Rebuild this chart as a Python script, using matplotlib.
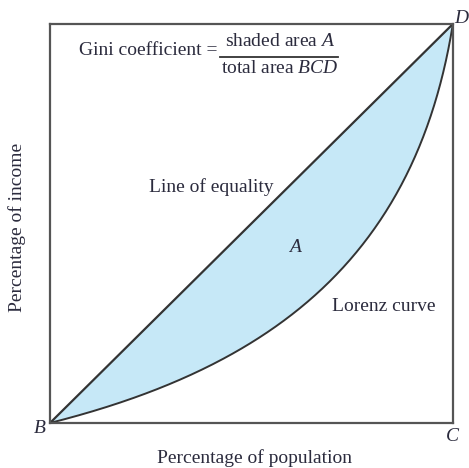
import matplotlib
matplotlib.use('Agg')
import matplotlib.pyplot as plt
import numpy as np

# Lorenz curve points (share of population, share of income)
pop_share = [0.0, 0.124, 0.248, 0.372, 0.471, 0.553, 0.638, 0.720, 0.801, 0.866, 0.911, 0.950, 0.980, 1.0]
income_share = [0.0, 0.038, 0.078, 0.128, 0.182, 0.238, 0.306, 0.383, 0.484, 0.575, 0.677, 0.792, 0.902, 1.0]
equality = [0.0, 1.0]

corner_labels = ['B', 'C', 'D']
x_label = 'Percentage of population'
y_label = 'Percentage of income'

plt.rcParams['font.family'] = ['Liberation Serif', 'DejaVu Serif']
plt.rcParams['mathtext.fontset'] = 'custom'
plt.rcParams['mathtext.rm'] = 'Liberation Serif'
plt.rcParams['mathtext.it'] = 'Liberation Serif:italic'
text_col = '#2b2b3d'
line_col = '#333333'
fs = 14

# smooth the read points: distance from the diagonal as a bump along it
px = np.array(pop_share)
py = np.array(income_share)
u = (px + py) / 2
v = (px - py) / 2
base = u * (1 - u)
A = np.vstack([base, base * u, base * u**2, base * u**3]).T
coef, *_ = np.linalg.lstsq(A, v, rcond=None)
uu = np.linspace(0, 1, 400)
vv = uu * (1 - uu) * (coef[0] + coef[1] * uu + coef[2] * uu**2 + coef[3] * uu**3)
curve_x = uu + vv
curve_y = uu - vv

fig = plt.figure(figsize=(4.69, 4.68), dpi=100)
ax = fig.add_axes([0.1066, 0.0962, 0.859, 0.8525])
ax.set_xlim(0, 1)
ax.set_ylim(0, 1)
ax.set_xticks([])
ax.set_yticks([])
for s in ax.spines.values():
    s.set_color('#555555')
    s.set_linewidth(1.6)

ax.fill(np.concatenate([curve_x, [0]]), np.concatenate([curve_y, [0]]),
        color='#c6e8f7', lw=0)
ax.plot(equality, equality, color=line_col, lw=1.6, solid_capstyle='round')
ax.plot(curve_x, curve_y, color=line_col, lw=1.4)

# annotations
ax.text(0.40, 0.591, 'Line of equality', ha='center', va='center', fontsize=fs, color=text_col)
ax.text(0.608, 0.441, 'A', ha='center', va='center', fontsize=fs, style='italic', color=text_col)
ax.text(0.829, 0.291, 'Lorenz curve', ha='center', va='center', fontsize=fs, color=text_col)

ax.text(0.417, 0.933, 'Gini coefficient =', ha='right', va='center', fontsize=fs, color=text_col)
ax.text(0.571, 0.955, 'shaded area $\\it{A}$', ha='center', va='center', fontsize=fs, color=text_col)
ax.text(0.571, 0.889, 'total area $\\it{BCD}$', ha='center', va='center', fontsize=fs, color=text_col)
ax.plot([0.422, 0.715], [0.918, 0.918], color=line_col, lw=1.3)

ax.text(-0.025, -0.013, corner_labels[0], ha='center', va='center', fontsize=fs,
        style='italic', color=text_col, clip_on=False)
ax.text(0.998, -0.033, corner_labels[1], ha='center', va='center', fontsize=fs,
        style='italic', color=text_col, clip_on=False)
ax.text(1.021, 1.015, corner_labels[2], ha='center', va='center', fontsize=fs,
        style='italic', color=text_col, clip_on=False)

fig.text(254 / 469, 1 - 458 / 468, x_label, ha='center', va='center', fontsize=fs, color=text_col)
fig.text(17 / 469, 1 - 227 / 468, y_label, ha='center', va='center', fontsize=fs,
         rotation=90, color=text_col)

fig.savefig('out.png', dpi=100)
